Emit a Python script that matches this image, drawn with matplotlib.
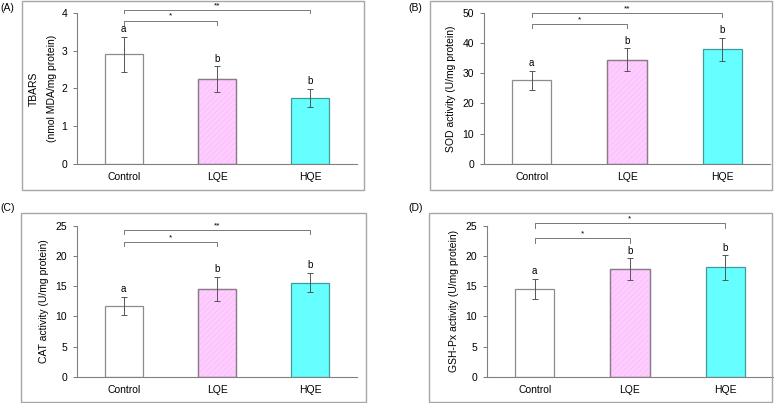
import matplotlib
matplotlib.use("Agg")
import matplotlib.pyplot as plt
from matplotlib.patches import Rectangle

plt.rcParams['font.family'] = ['Liberation Sans', 'DejaVu Sans']
plt.rcParams['hatch.linewidth'] = 0.5

groups = ["Control", "LQE", "HQE"]

tbars_mean = [2.90, 2.24, 1.74]
tbars_err = [0.46, 0.34, 0.24]
sod_mean = [27.6, 34.5, 37.9]
sod_err = [3.1, 3.7, 3.8]
cat_mean = [11.8, 14.6, 15.6]
cat_err = [1.5, 2.0, 1.6]
gsh_mean = [14.6, 17.8, 18.1]
gsh_err = [1.65, 1.8, 2.0]

letters = ["a", "b", "b"]
sig_ab = ["*", "*", "*", "*"]
sig_ac = ["**", "**", "**", "*"]

W, H = 774, 403
fig = plt.figure(figsize=(W / 100, H / 100), dpi=100)

def fx(px):
    return px / W

def fy(py):
    return 1 - py / H

fills = ["#ffffff", "#ffccff", "#66ffff"]
edges = ["#8c8c8c", "#8a7a8a", "#3f9a9a"]

panels = [
    dict(tag="(A)", tagpos=(0, 8), box=(22, 1, 364, 190), ax=(77, 357, 12.7, 164),
         mean=tbars_mean, err=tbars_err, ymax=4, step=1,
         ylabel="TBARS\n(nmol MDA/mg protein)",
         b1=(3.79, 3.68), b2=(4.07, 3.98)),
    dict(tag="(B)", tagpos=(408, 8), box=(430, 1, 772, 190), ax=(484, 770, 12.7, 164),
         mean=sod_mean, err=sod_err, ymax=50, step=10,
         ylabel="SOD activity (U/mg protein)",
         b1=(46.3, 45.0), b2=(50.0, 48.7)),
    dict(tag="(C)", tagpos=(0, 208), box=(21, 213, 366, 402), ax=(77, 357, 225.7, 377),
         mean=cat_mean, err=cat_err, ymax=25, step=5,
         ylabel="CAT activity (U/mg protein)",
         b1=(22.35, 21.6), b2=(24.3, 23.7)),
    dict(tag="(D)", tagpos=(408, 208), box=(429, 213, 772, 402), ax=(487, 773, 225.7, 377),
         mean=gsh_mean, err=gsh_err, ymax=25, step=5,
         ylabel="GSH-Px activity (U/mg protein)",
         b1=(22.9, 22.2), b2=(25.4, 24.7)),
]

for i, p in enumerate(panels):
    x0, y0, x1, y1 = p["box"]
    fig.patches.append(Rectangle((fx(x0), fy(y1)), fx(x1 - x0), (y1 - y0) / H,
                                 transform=fig.transFigure, fill=False,
                                 edgecolor="#a6a6a6", linewidth=1.0))
    fig.text(fx(p["tagpos"][0]), fy(p["tagpos"][1]), p["tag"], fontsize=7.5,
             ha="left", va="center")
    l, r, t, b = p["ax"]
    ax = fig.add_axes([fx(l), fy(b), fx(r - l), (b - t) / H])
    xs = range(len(groups))
    for j in xs:
        ax.bar(j, p["mean"][j], width=0.41, color=fills[j], edgecolor=edges[j],
               linewidth=0.9, zorder=2)
        if j == 1:
            ax.bar(j, p["mean"][j], width=0.41, color="none", edgecolor="#f7bdf7",
                   hatch="//////", linewidth=0, zorder=2.5)
            ax.bar(j, p["mean"][j], width=0.41, color="none", edgecolor=edges[j],
                   linewidth=0.9, zorder=2.6)
    ax.errorbar(list(xs), p["mean"], yerr=p["err"], fmt="none", ecolor="#555555",
                elinewidth=0.7, capsize=2.5, capthick=0.7, zorder=3)
    ymax = p["ymax"]
    for j in xs:
        ax.text(j, p["mean"][j] + p["err"][j] + ymax * 0.018, letters[j],
                ha="center", va="bottom", fontsize=7)
    # brackets
    (h1, d1), (h2, d2) = p["b1"], p["b2"]
    ax.plot([0, 0, 1, 1], [d1, h1, h1, d1], color="#777777", lw=0.7, clip_on=False)
    ax.text(0.5, h1 + ymax * 0.005, sig_ab[i], ha="center", va="bottom", fontsize=6)
    ax.plot([0, 0, 2, 2], [d2, h2, h2, d2], color="#777777", lw=0.7, clip_on=False)
    ax.text(1.0, h2 + ymax * 0.005, sig_ac[i], ha="center", va="bottom", fontsize=6)

    ax.set_xlim(-0.5, 2.5)
    ax.set_ylim(0, ymax)
    ax.set_yticks([k * p["step"] for k in range(int(ymax / p["step"]) + 1)])
    ax.set_xticks(list(xs))
    ax.set_xticklabels(groups, fontsize=7.5)
    ax.tick_params(axis="y", labelsize=7.5, length=3, width=0.7, color="#777777", pad=4)
    ax.tick_params(axis="x", length=0, pad=6)
    for s in ["top", "right"]:
        ax.spines[s].set_visible(False)
    for s in ["left", "bottom"]:
        ax.spines[s].set_color("#808080")
        ax.spines[s].set_linewidth(0.8)
    ax.set_ylabel(p["ylabel"], fontsize=7.5, labelpad=5 if i != 0 else 3,
                  linespacing=2.0)
    ax.patch.set_alpha(0)

fig.savefig("out.png", dpi=100)
